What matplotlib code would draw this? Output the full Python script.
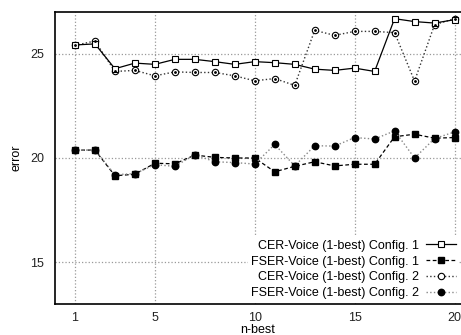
import numpy as np
from matplotlib import pyplot as plt

plt.rcParams['font.family'] = ['Liberation Sans', 'DejaVu Sans']

n_best = list(range(1, 21))

cer_cfg1 = [25.42, 25.47, 24.28, 24.55, 24.49, 24.73, 24.73, 24.62, 24.49, 24.62,
            24.57, 24.49, 24.26, 24.20, 24.31, 24.15, 26.68, 26.54, 26.47, 26.63]
fser_cfg1 = [20.38, 20.38, 19.15, 19.22, 19.75, 19.72, 20.14, 20.03, 20.00, 20.00,
             19.34, 19.60, 19.82, 19.62, 19.70, 19.70, 21.02, 21.14, 20.95, 20.98]
cer_cfg2 = [25.40, 25.61, 24.15, 24.20, 23.94, 24.13, 24.10, 24.10, 23.94, 23.70,
            23.81, 23.48, 26.12, 25.88, 26.07, 26.07, 26.01, 23.69, 26.39, 26.68]
fser_cfg2 = [20.38, 20.38, 19.20, 19.25, 19.68, 19.60, 20.16, 19.82, 19.78, 19.71,
             20.65, 19.62, 20.59, 20.57, 20.98, 20.91, 21.30, 20.00, 20.93, 21.25]

labels = ['CER-Voice (1-best) Config. 1', 'FSER-Voice (1-best) Config. 1',
          'CER-Voice (1-best) Config. 2', 'FSER-Voice (1-best) Config. 2']
xticks = [1, 5, 10, 15, 20]
yticks = [15, 20, 25]

fig = plt.figure(figsize=(4.61, 3.35), dpi=100)
ax = fig.add_axes([55/461, 31/335, 405.5/461, 292/335])

# open squares, solid
ax.plot(n_best, cer_cfg1, '-', color='black', lw=0.9, marker='s', ms=4.2,
        mfc='white', mec='black', mew=0.8, label=labels[0], zorder=4)
# filled squares, dashed
ax.plot(n_best, fser_cfg1, '--', color='black', lw=0.9, marker='s', ms=5,
        mfc='black', mec='black', dashes=(3, 2), label=labels[1], zorder=3)
# open circles with dot, dotted
ax.plot(n_best, cer_cfg2, ':', color='#333333', lw=1.0, marker='o', ms=4.6,
        mfc='white', mec='black', mew=0.8, label=labels[2], zorder=3)
ax.plot(n_best, cer_cfg2, ls='none', marker='o', ms=1.0, color='black', zorder=5)
# filled circles, light dotted
ax.plot(n_best, fser_cfg2, ':', color='#888888', lw=1.0, marker='o', ms=4.6,
        mfc='black', mec='black', label=labels[3], zorder=3)

ax.set_xlim(0, 20.3)
ax.set_ylim(13, 27)
ax.set_xticks(xticks)
ax.set_yticks(yticks)
ax.tick_params(length=0, labelsize=9, colors='#222222')
ax.tick_params(axis='x', pad=6)
ax.tick_params(axis='y', pad=8)
ax.grid(True, ls=':', color='#999999', lw=0.9)
ax.set_axisbelow(True)
for side in ['left', 'bottom', 'top']:
    ax.spines[side].set_linewidth(1.2)
ax.spines['right'].set_visible(False)

ax.set_xlabel('n-best', fontsize=9, labelpad=0)
ax.set_ylabel('error', fontsize=9, labelpad=5)

leg = ax.legend(loc='lower right', fontsize=9, markerfirst=False, frameon=True,
                framealpha=1, edgecolor='none', borderpad=0.25, labelspacing=0.3,
                handlelength=2.4, handletextpad=0.5, borderaxespad=0.15)
leg.get_frame().set_linewidth(0)

plt.savefig('out.png', dpi=100)
